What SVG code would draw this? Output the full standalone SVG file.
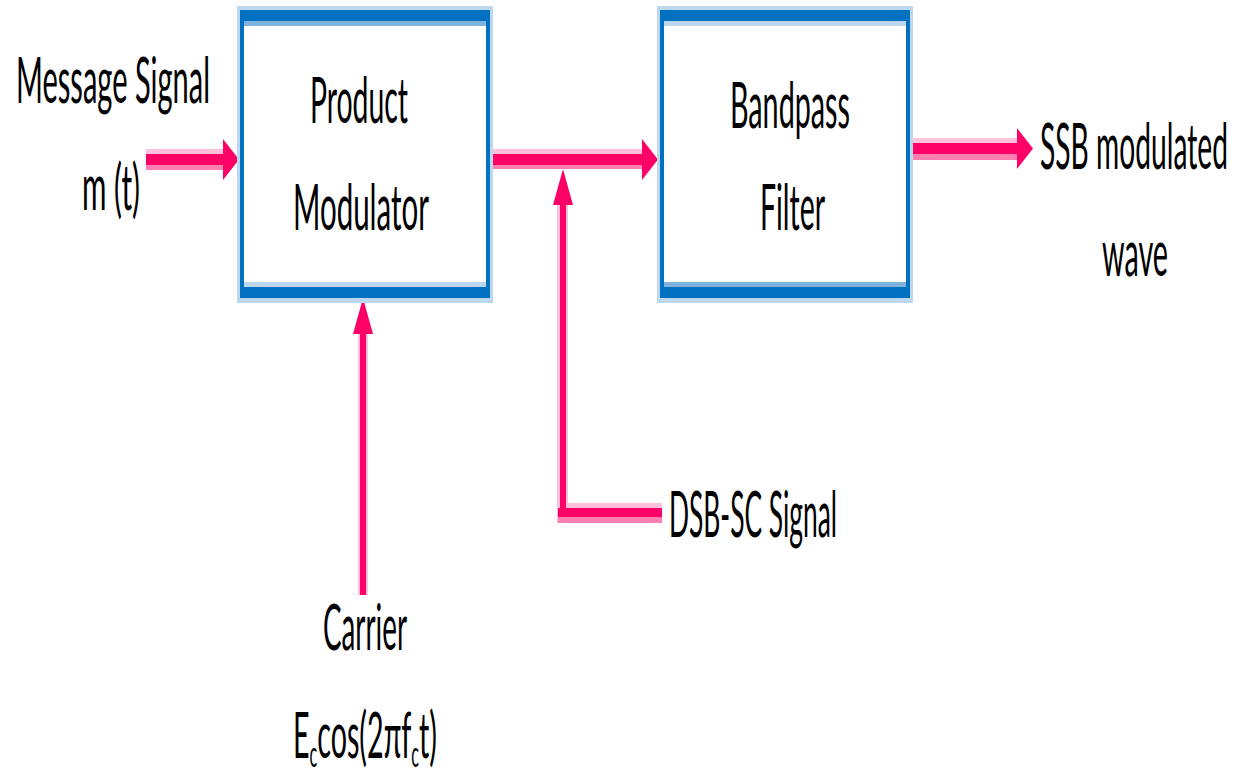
<svg xmlns="http://www.w3.org/2000/svg" width="1238" height="772" viewBox="0 0 1238 772">
  <style>
    .lbl { font-family: Lato, "Liberation Sans", sans-serif; font-size: 64px; fill: #000; }
    .core { fill: #ff0066; }
    .lite { fill: #ffc0da; }
    .mid { fill: #ff80b0; }
    .frame { fill: #0070c0; }
    .halo { fill: #bdd7ee; }
    .band { fill: #7fb2dc; }
  </style>
  <defs>
    <!-- arrowheads: right-pointing (tip at 0,0) and up-pointing (tip at 0,0) -->
    <polygon id="headR" points="0,0 -16,-20.5 -16,20.5" fill="#ff0066"/>
    <polygon id="headU" points="0,0 -10,36 10,36" fill="#ff0066"/>
  </defs>

  <rect width="1238" height="772" fill="#fff"/>

  <g id="connectors">
    <!-- message signal into product modulator -->
    <rect class="lite" x="146" y="149" width="78" height="5"/>
    <rect class="core" x="146" y="154" width="78" height="11"/>
    <rect class="mid" x="146" y="165" width="78" height="5"/>
    <use href="#headR" x="239" y="159.5"/>

    <!-- modulator output into bandpass filter -->
    <rect class="lite" x="490" y="149" width="154" height="5"/>
    <rect class="core" x="490" y="154" width="154" height="11"/>
    <rect class="mid" x="490" y="165" width="154" height="4"/>
    <use href="#headR" x="658" y="159.5"/>

    <!-- filter output -->
    <rect class="lite" x="910" y="138" width="108" height="5"/>
    <rect class="core" x="910" y="143" width="108" height="11"/>
    <rect class="mid" x="910" y="154" width="108" height="6"/>
    <use href="#headR" x="1033" y="148.5"/>

    <!-- DSB-SC tap: horizontal run then up to the shaft -->
    <rect class="lite" x="557" y="200" width="11" height="323"/>
    <rect class="core" x="560" y="200" width="6" height="317"/>
    <rect class="lite" x="566" y="503" width="96" height="5"/>
    <rect class="core" x="558" y="508" width="104" height="9"/>
    <rect class="mid" x="558" y="517" width="104" height="6"/>
    <use href="#headU" x="563" y="169"/>

    <!-- carrier into product modulator -->
    <rect class="lite" x="358" y="320" width="10" height="275"/>
    <rect class="core" x="360" y="320" width="6" height="275"/>
    <use href="#headU" x="363" y="298"/>
  </g>

  <g id="product-modulator">
    <rect class="halo" x="237" y="6" width="256" height="297"/>
    <rect class="frame" x="240" y="10" width="250" height="288"/>
    <rect fill="#fff" x="244" y="21" width="242" height="266"/>
    <rect class="band" x="244" y="21" width="242" height="5"/>
    <rect class="halo" x="244" y="282" width="242" height="5"/>
    <text class="lbl" x="310" y="123" textLength="98" lengthAdjust="spacingAndGlyphs">Product</text>
    <text class="lbl" x="293" y="230" textLength="136" lengthAdjust="spacingAndGlyphs">Modulator</text>
  </g>

  <g id="bandpass-filter">
    <rect class="halo" x="657" y="6" width="256" height="297"/>
    <rect class="frame" x="660" y="10" width="250" height="288"/>
    <rect fill="#fff" x="664" y="21" width="242" height="266"/>
    <rect class="halo" x="664" y="21" width="242" height="5"/>
    <rect class="band" x="664" y="282" width="242" height="5"/>
    <text class="lbl" x="730" y="128" textLength="120" lengthAdjust="spacingAndGlyphs">Bandpass</text>
    <text class="lbl" x="760" y="230" textLength="65" lengthAdjust="spacingAndGlyphs">Filter</text>
  </g>

  <g id="message-signal">
    <text class="lbl" x="16" y="103" textLength="194" lengthAdjust="spacingAndGlyphs">Message Signal</text>
    <text class="lbl" x="82" y="210" textLength="58" lengthAdjust="spacingAndGlyphs">m (t)</text>
  </g>

  <g id="dsb-sc-signal">
    <text class="lbl" x="669" y="537" textLength="168" lengthAdjust="spacingAndGlyphs">DSB-SC Signal</text>
  </g>

  <g id="carrier">
    <text class="lbl" x="323" y="650" textLength="84" lengthAdjust="spacingAndGlyphs">Carrier</text>
    <text class="lbl" x="293" y="758" textLength="144" lengthAdjust="spacingAndGlyphs">E<tspan dy="9" font-size="36">c</tspan><tspan dy="-9">cos(2πf</tspan><tspan dy="9" font-size="36">c</tspan><tspan dy="-9">t)</tspan></text>
  </g>

  <g id="ssb-output">
    <text class="lbl" x="1040" y="169" textLength="188" lengthAdjust="spacingAndGlyphs">SSB modulated</text>
    <text class="lbl" x="1102" y="276" textLength="66" lengthAdjust="spacingAndGlyphs">wave</text>
  </g>
</svg>
